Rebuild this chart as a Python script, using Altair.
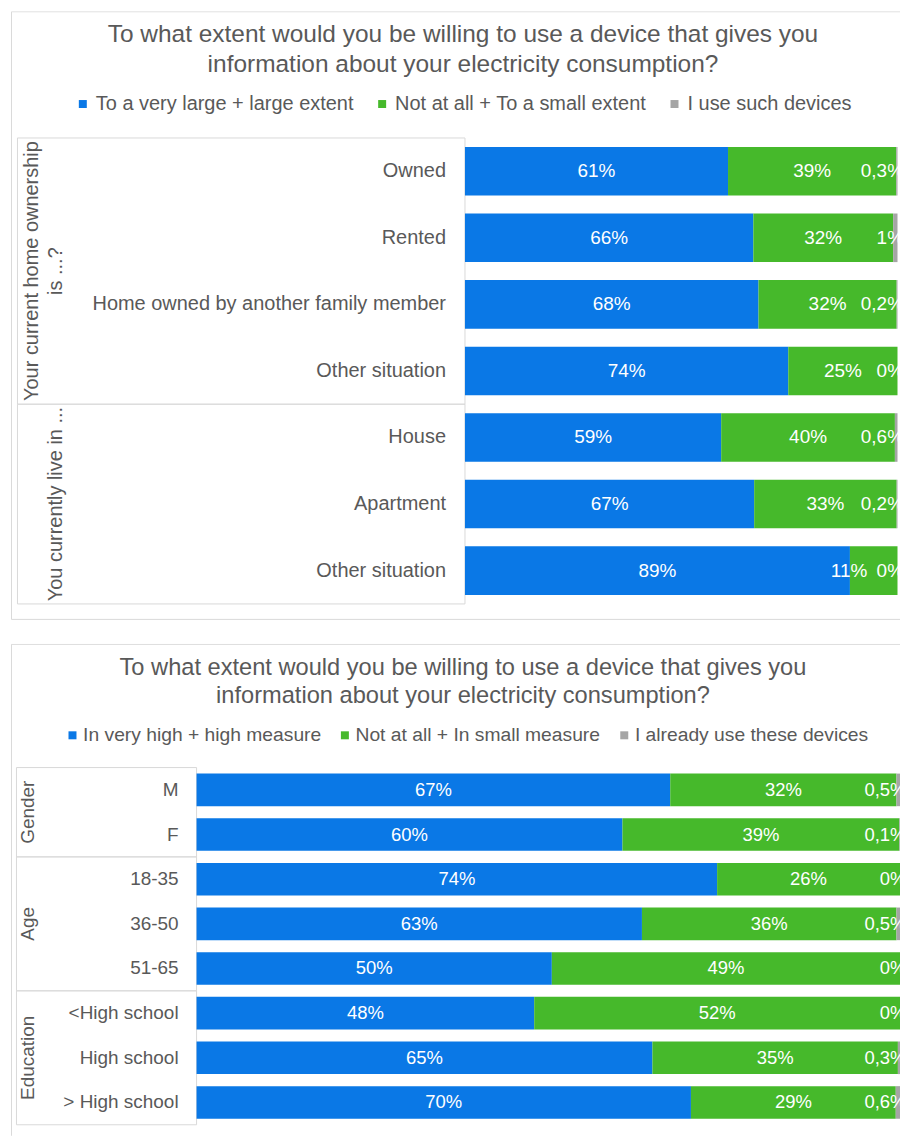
import altair as alt
import pandas as pd

FONT = "Liberation Sans"
TXT = "#595959"
BLUE = "#0A78E6"
GREEN = "#46B92B"
GREY = "#A5A5A5"
LINE = "#D9D9D9"
PAD = 0.135  # gap above/below each bar, as a share of the row step

title_text = ("To what extent would you be willing to use a device that gives you\n"
              "information about your electricity consumption?")

# ---------------- Panel 1 data ----------------
p1_series = ["To a very large + large extent", "Not at all + To a small extent", "I use such devices"]
p1_groups = ["Your current home ownership\nis ...?", "You currently live in ..."]
p1_group_sizes = [4, 3]
p1_rows = ["Owned", "Rented", "Home owned by another family member", "Other situation",
           "House", "Apartment", "Other situation"]
p1_blue = [61, 66, 68, 74, 59, 67, 89]
p1_green = [39, 32, 32, 25, 40, 33, 11]
p1_grey = [0.3, 1, 0.2, 0, 0.6, 0.2, 0]

# ---------------- Panel 2 data ----------------
p2_series = ["In very high + high measure", "Not at all + In small measure", "I already use these devices"]
p2_groups = ["Gender", "Age", "Education"]
p2_group_sizes = [2, 3, 3]
p2_rows = ["M", "F", "18-35", "36-50", "51-65", "<High school", "High school", "> High school"]
p2_blue = [67, 60, 74, 63, 50, 48, 65, 70]
p2_green = [32, 39, 26, 36, 49, 52, 35, 29]
p2_grey = [0.5, 0.1, 0, 0.5, 0, 0, 0.3, 0.6]


def pct(v):
    return f"{v:g}".replace(".", ",") + "%"


def make_panel(series, groups, sizes, rows, blue, green, grey, L):
    W, H = L["W"], L["H"]
    recs = []
    for i in range(len(rows)):
        for s, vals in enumerate([blue, green, grey]):
            recs.append({"ri": i, "sidx": s, "series": series[s],
                         "value": vals[i], "label": pct(vals[i])})
    df = pd.DataFrame(recs)
    rows_df = pd.DataFrame({"ri": list(range(len(rows))), "row": rows})
    starts, s0 = [], 0
    for n in sizes:
        starts.append(s0)
        s0 += n
    groups_df = pd.DataFrame({"group": groups, "start": starts,
                              "end": [a + b for a, b in zip(starts, sizes)],
                              "nl": [g.count("\n") + 1 for g in groups]})
    one = pd.DataFrame({"t": [title_text]})

    xs = alt.Scale(domain=[0, 1], range=L["xr"], nice=False, zero=False)
    ys = alt.Scale(domain=[0, len(rows)], range=L["yr"], nice=False, zero=False)
    cs = alt.Scale(domain=series, range=[BLUE, GREEN, GREY])

    frame = alt.Chart(one).mark_rect(fillOpacity=0, stroke=LINE, strokeWidth=1, clip=True).encode(
        x=alt.value(0.5), x2=alt.value(W + 20), y=alt.value(0.5), y2=alt.value(L["fb"]))

    title = alt.Chart(one).mark_text(
        align="center", baseline="top", font=FONT, fontSize=L["tfs"], lineHeight=L["tlh"],
        color=TXT, lineBreak="\n").encode(
        x=alt.value(L["tx"]), y=alt.value(L["ty"]), text="t:N")

    boxes = alt.Chart(groups_df).mark_rect(fillOpacity=0, stroke=LINE, strokeWidth=1).encode(
        y=alt.Y("start:Q", scale=ys, axis=None), y2="end:Q",
        x=alt.value(L["bl"]), x2=alt.value(L["xr"][0]))

    gbase = alt.Chart(groups_df).transform_calculate(mid="(datum.start + datum.end) / 2")
    genc = dict(x=alt.value(L["gx"]), y=alt.Y("mid:Q", scale=ys, axis=None), text="group:N")
    gstyle = dict(angle=270, align="center", baseline="bottom", lineBreak="\n", lineHeight=24,
                  font=FONT, fontSize=L["gfs"], color=TXT)
    # multi-line group titles grow to the left so that their last line sits in the same column
    glab1 = gbase.transform_filter("datum.nl == 1").mark_text(**gstyle).encode(**genc)
    glab2 = gbase.transform_filter("datum.nl == 2").mark_text(dy=-24, **gstyle).encode(**genc)

    rlabels = alt.Chart(rows_df).transform_calculate(
        yc="datum.ri + 0.5", x0="0"
    ).mark_text(
        align="right", baseline="middle", dx=L["rdx"], font=FONT, fontSize=L["fs"], color=TXT).encode(
        y=alt.Y("yc:Q", scale=ys, axis=None), x=alt.X("x0:Q", scale=xs, axis=None), text="row:N")

    base = alt.Chart(df).transform_joinaggregate(
        total="sum(value)", groupby=["ri"]
    ).transform_calculate(
        frac="datum.value / datum.total"
    ).transform_stack(
        stack="frac", groupby=["ri"], as_=["x0", "x1"], sort=[alt.SortField("sidx")]
    ).transform_calculate(
        mid="(datum.x0 + datum.x1) / 2",
        y0=f"datum.ri + {PAD}", y1=f"datum.ri + 1 - {PAD}", yc="datum.ri + 0.5"
    ).transform_calculate(
        lx=f"datum.sidx == 1 ? min(datum.mid, datum.x1 - {L['gap']}) : datum.mid"
    )

    bars = base.mark_rect(strokeWidth=0).encode(
        y=alt.Y("y0:Q", scale=ys, axis=None), y2="y1:Q",
        x=alt.X("x0:Q", scale=xs, axis=None), x2="x1:Q",
        color=alt.Color("series:N", scale=cs, legend=alt.Legend(
            orient="none", legendX=L["lx"], legendY=L["ly"], direction="horizontal",
            title=None, symbolType="square", symbolSize=64, symbolStrokeWidth=0,
            labelFont=FONT, labelFontSize=L["lfs"], labelColor=TXT, labelLimit=500,
            columnPadding=L["cp"], labelOffset=L["lo"])))

    labels = base.transform_filter("datum.sidx < 2").mark_text(
        align="center", baseline="middle", font=FONT, fontSize=L["bfs"], color="white").encode(
        y=alt.Y("yc:Q", scale=ys, axis=None),
        x=alt.X("lx:Q", scale=xs, axis=None), text="label:N")

    glabs = base.transform_filter("datum.sidx == 2").mark_text(
        align="right", baseline="middle", dx=6.5, clip=True, font=FONT, fontSize=L["bfs"],
        color="white").encode(
        y=alt.Y("yc:Q", scale=ys, axis=None),
        x=alt.X("x1:Q", scale=xs, axis=None), text="label:N")

    return alt.layer(frame, title, boxes, glab1, glab2, rlabels, bars, labels, glabs).properties(
        width=W, height=H)


L1 = dict(W=891, H=610, xr=[455, 888.5], yr=[127, 594], fb=609.5, tfs=24.5, tlh=30, tx=453, ty=12,
          bl=6.5, gx=55, gfs=20, fs=20, rdx=-19, gap=0.112, lx=62, ly=83, lfs=20, cp=18, lo=3,
          bfs=19)
L2 = dict(W=891, H=493, xr=[186, 891], yr=[124, 482], fb=520, tfs=23.7, tlh=28, tx=453, ty=12,
          bl=5.5, gx=27, gfs=19, fs=19, rdx=-18, gap=0.07, lx=52, ly=82, lfs=19.3, cp=14, lo=1,
          bfs=18.5)

p1 = make_panel(p1_series, p1_groups, p1_group_sizes, p1_rows, p1_blue, p1_green, p1_grey, L1)
p2 = make_panel(p2_series, p2_groups, p2_group_sizes, p2_rows, p2_blue, p2_green, p2_grey, L2)

chart = alt.vconcat(p1, p2, spacing=24, bounds="flush").resolve_scale(
    color="independent", x="independent", y="independent"
).properties(
    padding={"left": 10, "top": 9, "right": 0, "bottom": 0},
    background="white"
).configure(
    font=FONT, view=alt.ViewConfig(stroke="transparent")
)

chart.save("out.html", embed_options={"renderer": "svg", "actions": False})
